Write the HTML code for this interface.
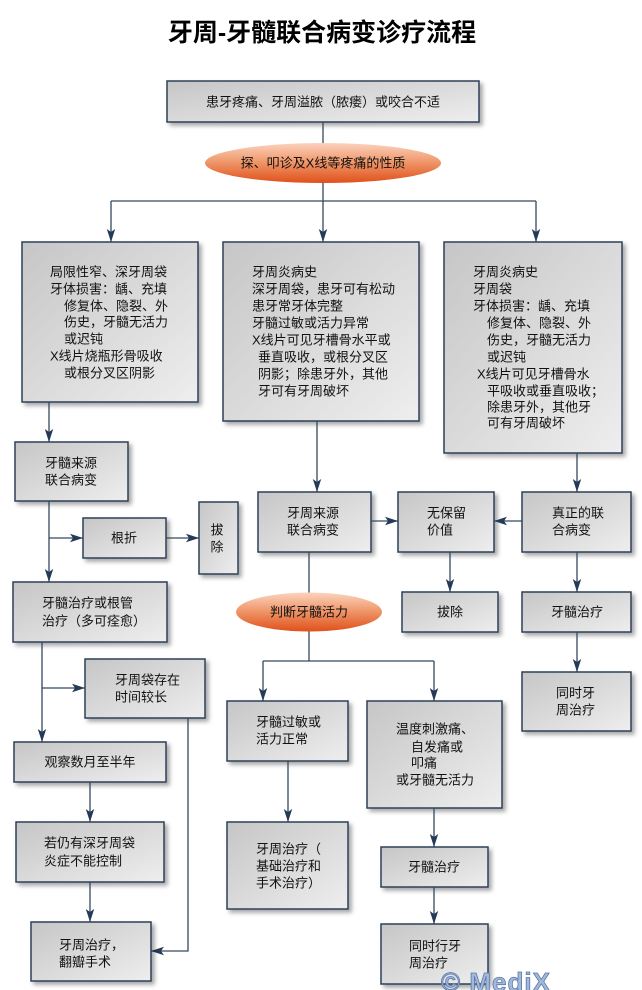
<!DOCTYPE html>
<html><head><meta charset="utf-8"><style>
html,body{margin:0;padding:0;background:#fff;}
svg{display:block;}
text{font-family:"Liberation Sans","Noto Sans CJK SC",sans-serif;fill:#111;}
.t{font-size:13px;dominant-baseline:central;}
.c{text-anchor:middle;}
.b{fill:url(#bg);stroke:#2e4058;stroke-width:1.5;filter:url(#sh);}
.l{stroke:#34495e;stroke-width:1.3;fill:none;}
.a{stroke:#34495e;stroke-width:1.3;fill:none;marker-end:url(#ar);}
</style></head><body>
<svg width="642" height="990" viewBox="0 0 642 990" xmlns="http://www.w3.org/2000/svg">
<defs>
<linearGradient id="bg" x1="0" y1="0" x2="1" y2="1">
<stop offset="0" stop-color="#c6c6c6"/><stop offset="1" stop-color="#eeeeee"/>
</linearGradient>
<linearGradient id="eg" x1="0" y1="0" x2="0" y2="1">
<stop offset="0" stop-color="#fbd3bf"/><stop offset="0.45" stop-color="#f09a6e"/><stop offset="1" stop-color="#e0501a"/>
</linearGradient>
<filter id="sh" x="-10%" y="-10%" width="130%" height="130%">
<feDropShadow dx="3" dy="3" stdDeviation="2" flood-color="#000" flood-opacity="0.35"/>
</filter>
<marker id="ar" markerUnits="userSpaceOnUse" markerWidth="14" markerHeight="10" refX="13" refY="5" orient="auto">
<path d="M0,0.8 L13,5 L0,9.2 L3,5 Z" fill="#243a56"/>
</marker>
</defs>

<text x="322" y="33" class="c" style="font-size:25px;font-weight:bold;dominant-baseline:central;fill:#000">牙周-牙髓联合病变诊疗流程</text>

<!-- top -->
<rect class="b" x="167" y="81" width="312" height="41"/>
<text class="t c" x="323" y="102">患牙疼痛、牙周溢脓（脓瘘）或咬合不适</text>
<line class="l" x1="323" y1="122" x2="323" y2="143"/>
<line class="l" x1="323" y1="183" x2="323" y2="201"/>
<ellipse cx="323" cy="163" rx="118" ry="20" fill="url(#eg)"/>
<text class="t c" x="323" y="163">探、叩诊及X线等疼痛的性质</text>
<line class="l" x1="111" y1="201" x2="536" y2="201"/>
<line class="a" x1="111" y1="201" x2="111" y2="242"/>
<line class="a" x1="323" y1="201" x2="323" y2="242"/>
<line class="a" x1="536" y1="201" x2="536" y2="242"/>

<!-- left box 1 -->
<rect class="b" x="22" y="242" width="176" height="160"/>
<text class="t" x="50" y="272">局限性窄、深牙周袋</text>
<text class="t" x="50" y="289">牙体损害：龋、充填</text>
<text class="t" x="64" y="306">修复体、隐裂、外</text>
<text class="t" x="64" y="322">伤史，牙髓无活力</text>
<text class="t" x="64" y="339">或迟钝</text>
<text class="t" x="50" y="356">X线片烧瓶形骨吸收</text>
<text class="t" x="64" y="373">或根分叉区阴影</text>

<!-- middle box 2 -->
<rect class="b" x="223" y="242" width="196" height="179"/>
<text class="t" x="252" y="272">牙周炎病史</text>
<text class="t" x="252" y="289">深牙周袋，患牙可有松动</text>
<text class="t" x="252" y="306">患牙常牙体完整</text>
<text class="t" x="252" y="323">牙髓过敏或活力异常</text>
<text class="t" x="252" y="340">X线片可见牙槽骨水平或</text>
<text class="t" x="258" y="357">垂直吸收，或根分叉区</text>
<text class="t" x="258" y="374">阴影；除患牙外，其他</text>
<text class="t" x="258" y="391">牙可有牙周破坏</text>

<!-- right box 3 -->
<rect class="b" x="444" y="242" width="178" height="211"/>
<text class="t" x="473" y="272">牙周炎病史</text>
<text class="t" x="473" y="289">牙周袋</text>
<text class="t" x="473" y="306">牙体损害：龋、充填</text>
<text class="t" x="487" y="323">修复体、隐裂、外</text>
<text class="t" x="487" y="340">伤史，牙髓无活力</text>
<text class="t" x="487" y="357">或迟钝</text>
<text class="t" x="477" y="374">X线片可见牙槽骨水</text>
<text class="t" x="487" y="391">平吸收或垂直吸收；</text>
<text class="t" x="487" y="407">除患牙外，其他牙</text>
<text class="t" x="487" y="423">可有牙周破坏</text>

<!-- arrows from first row -->
<line class="a" x1="49" y1="402" x2="49" y2="442"/>
<line class="a" x1="317" y1="421" x2="317" y2="492"/>
<line class="a" x1="577" y1="453" x2="577" y2="492"/>

<!-- left column -->
<rect class="b" x="15" y="442" width="113" height="59"/>
<text class="t" x="45" y="463">牙髓来源</text>
<text class="t" x="45" y="480">联合病变</text>
<line class="a" x1="49" y1="501" x2="49" y2="582"/>
<line class="a" x1="49" y1="538" x2="83" y2="538"/>
<rect class="b" x="83" y="518" width="83" height="40"/>
<text class="t c" x="124" y="538">根折</text>
<line class="a" x1="166" y1="538" x2="199" y2="538"/>
<rect class="b" x="199" y="502" width="39" height="72"/>
<text class="t c" x="217" y="530">拔</text>
<text class="t c" x="217" y="547">除</text>

<rect class="b" x="13" y="582" width="154" height="60"/>
<text class="t" x="42" y="603">牙髓治疗或根管</text>
<text class="t" x="42" y="621">治疗（多可痊愈）</text>
<line class="a" x1="42" y1="642" x2="42" y2="742"/>
<line class="a" x1="42" y1="688" x2="85" y2="688"/>
<rect class="b" x="85" y="659" width="120" height="59"/>
<text class="t" x="115" y="680">牙周袋存在</text>
<text class="t" x="115" y="697">时间较长</text>
<polyline class="a" points="188,718 188,951 151,951"/>

<rect class="b" x="14" y="742" width="152" height="40"/>
<text class="t c" x="90" y="762">观察数月至半年</text>
<line class="a" x1="90" y1="782" x2="90" y2="822"/>
<rect class="b" x="16" y="822" width="148" height="60"/>
<text class="t" x="44" y="843">若仍有深牙周袋</text>
<text class="t" x="44" y="861">炎症不能控制</text>
<line class="a" x1="90" y1="882" x2="90" y2="922"/>
<rect class="b" x="31" y="922" width="120" height="59"/>
<text class="t" x="59" y="945">牙周治疗，</text>
<text class="t" x="59" y="962">翻瓣手术</text>

<!-- middle row -->
<rect class="b" x="258" y="492" width="113" height="60"/>
<text class="t" x="287" y="513">牙周来源</text>
<text class="t" x="287" y="530">联合病变</text>
<line class="a" x1="371" y1="521" x2="398" y2="521"/>
<rect class="b" x="398" y="492" width="96" height="60"/>
<text class="t" x="427" y="513">无保留</text>
<text class="t" x="427" y="530">价值</text>
<line class="a" x1="522" y1="521" x2="494" y2="521"/>
<rect class="b" x="522" y="492" width="109" height="60"/>
<text class="t" x="552" y="513">真正的联</text>
<text class="t" x="552" y="530">合病变</text>

<line class="a" x1="450" y1="552" x2="450" y2="592"/>
<rect class="b" x="402" y="592" width="96" height="40"/>
<text class="t c" x="450" y="612">拔除</text>
<line class="a" x1="577" y1="552" x2="577" y2="592"/>
<rect class="b" x="522" y="592" width="109" height="40"/>
<text class="t c" x="577" y="612">牙髓治疗</text>
<line class="a" x1="577" y1="632" x2="577" y2="672"/>
<rect class="b" x="522" y="672" width="109" height="59"/>
<text class="t" x="556" y="693">同时牙</text>
<text class="t" x="556" y="710">周治疗</text>

<line class="l" x1="309" y1="552" x2="309" y2="593"/>
<line class="l" x1="309" y1="631" x2="309" y2="661"/>
<ellipse cx="309" cy="612" rx="73" ry="19.5" fill="url(#eg)"/>
<text class="t c" x="309" y="612">判断牙髓活力</text>
<line class="l" x1="263" y1="661" x2="434" y2="661"/>
<line class="a" x1="263" y1="661" x2="263" y2="701"/>
<line class="a" x1="434" y1="661" x2="434" y2="701"/>

<rect class="b" x="227" y="701" width="121" height="60"/>
<text class="t" x="256" y="722">牙髓过敏或</text>
<text class="t" x="256" y="739">活力正常</text>
<line class="a" x1="288" y1="761" x2="288" y2="822"/>
<rect class="b" x="227" y="822" width="121" height="87"/>
<text class="t" x="256" y="849">牙周治疗（</text>
<text class="t" x="256" y="866">基础治疗和</text>
<text class="t" x="256" y="883">手术治疗）</text>

<rect class="b" x="367" y="701" width="135" height="107"/>
<text class="t" x="396" y="729">温度刺激痛、</text>
<text class="t" x="411" y="747">自发痛或</text>
<text class="t" x="411" y="763">叩痛</text>
<text class="t" x="396" y="780">或牙髓无活力</text>
<line class="a" x1="434" y1="808" x2="434" y2="847"/>
<rect class="b" x="381" y="847" width="107" height="40"/>
<text class="t c" x="434" y="867">牙髓治疗</text>
<line class="a" x1="434" y1="887" x2="434" y2="924"/>
<rect class="b" x="381" y="924" width="107" height="60"/>
<text class="t" x="409" y="946">同时行牙</text>
<text class="t" x="409" y="963">周治疗</text>

<text x="441" y="991" style="font-size:26px;font-weight:bold;fill:#a3b9dc;stroke:#5a78a8;stroke-width:0.8;letter-spacing:1px">© MediX</text>
</svg>
</body></html>
